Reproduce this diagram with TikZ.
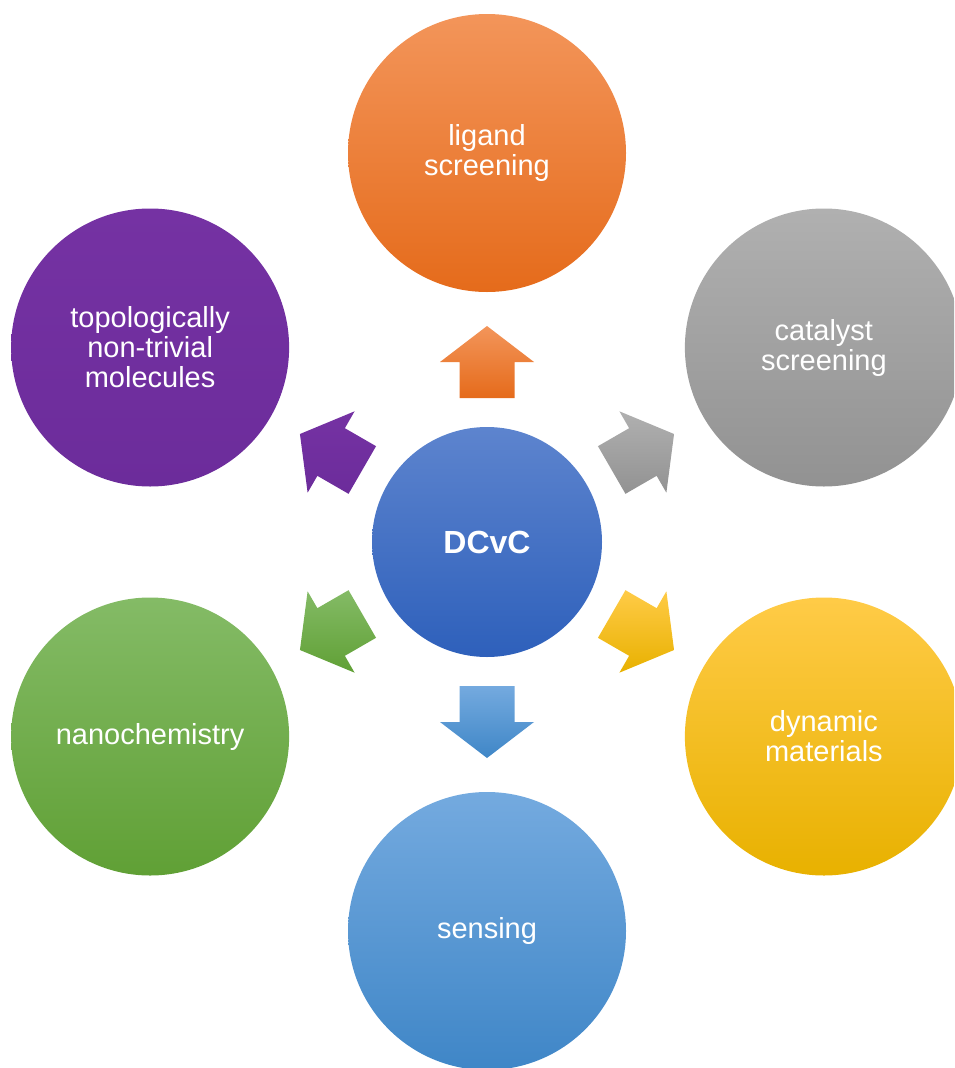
\documentclass[tikz,border=0pt]{standalone}
\usepackage{fontspec}
\setmainfont{Liberation Sans}
\usetikzlibrary{calc}

\definecolor{orgT}{HTML}{F3955A}
\definecolor{orgB}{HTML}{E56B1B}
\definecolor{grayT}{HTML}{B0B0B0}
\definecolor{grayB}{HTML}{929292}
\definecolor{yelT}{HTML}{FFCB47}
\definecolor{yelB}{HTML}{E8B100}
\definecolor{skyT}{HTML}{74AADF}
\definecolor{skyB}{HTML}{3F86C7}
\definecolor{grnT}{HTML}{84BB66}
\definecolor{grnB}{HTML}{60A035}
\definecolor{purT}{HTML}{7532A3}
\definecolor{purB}{HTML}{6C2C9B}
\definecolor{hubT}{HTML}{5D84CE}
\definecolor{hubB}{HTML}{2E60BB}

\begin{document}
\begin{tikzpicture}[x = 1pt, y = 1pt,
    bubble/.style = {circle, minimum size = 278pt, inner sep = 0pt, text = white,
                     align = center, font = \fontsize{29}{30}\selectfont},
    hubnode/.style = {bubble, minimum size = 230pt, font = \bfseries\fontsize{32}{34}\selectfont}]
  \clip (0,0) rectangle (954,-1068);

  \node[hubnode, top color = hubT, bottom color = hubB] (hub) at (487,-542) {DCvC};

  % outer topics and the block arrows pointing at them
  \foreach \a/\name/\txt/\ctop/\cbot in {
      90/ligand/{ligand\\screening}/orgT/orgB,
      30/catalyst/{catalyst\\screening}/grayT/grayB,
      -30/dynamic/{dynamic\\materials}/yelT/yelB,
      -90/sensing/{sensing}/skyT/skyB,
      -150/nano/{nanochemistry}/grnT/grnB,
      150/topo/{topologically\\non-trivial\\molecules}/purT/purB} {
    \node[bubble, top color = \ctop, bottom color = \cbot] (\name) at ($(hub.center)+(\a:389)$) {\txt};
    \path[top color = \ctop, bottom color = \cbot]
      ($(hub.center)!144pt!(\name.center)!27.5pt!90:(\name.center)$) --
      ($(hub.center)!180pt!(\name.center)!27.5pt!90:(\name.center)$) --
      ($(hub.center)!180pt!(\name.center)!47pt!90:(\name.center)$) --
      ($(hub.center)!216pt!(\name.center)$) --
      ($(hub.center)!180pt!(\name.center)!47pt!-90:(\name.center)$) --
      ($(hub.center)!180pt!(\name.center)!27.5pt!-90:(\name.center)$) --
      ($(hub.center)!144pt!(\name.center)!27.5pt!-90:(\name.center)$) -- cycle;
  }
\end{tikzpicture}
\end{document}
